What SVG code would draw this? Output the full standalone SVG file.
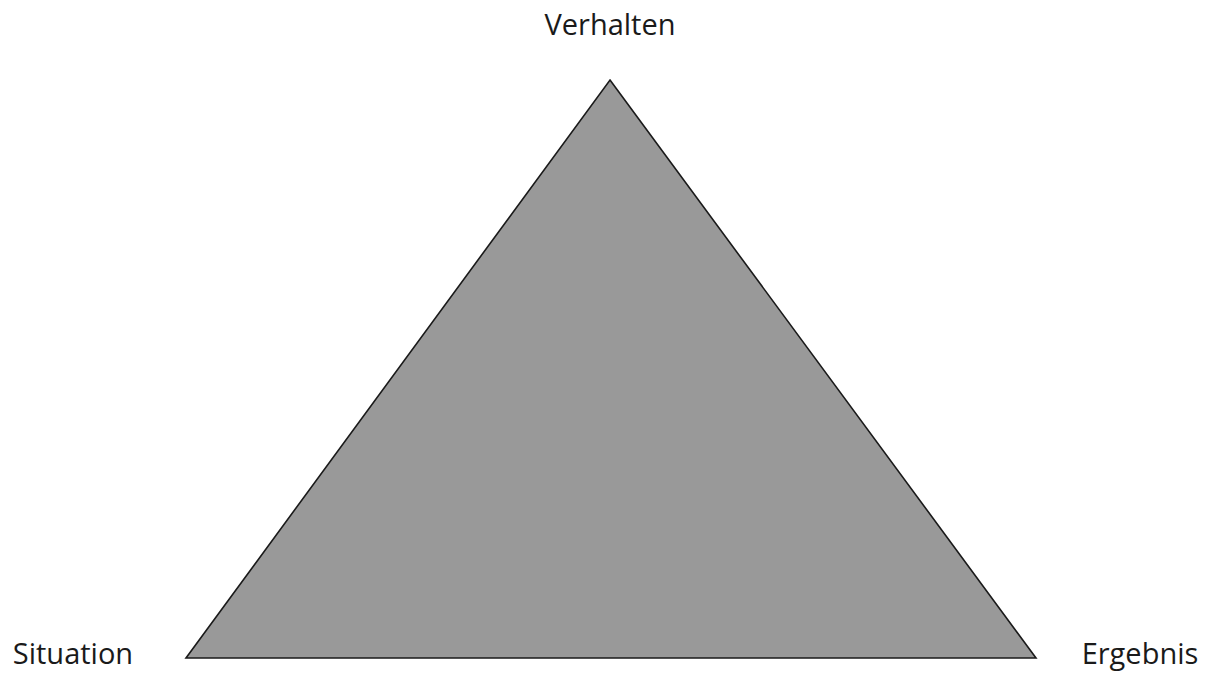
<svg xmlns="http://www.w3.org/2000/svg" width="1205" height="673" viewBox="0 0 1205 673">
<style>
.lbl{font-family:"Open Sans","Noto Sans",sans-serif;font-size:29px;fill:#1a1a1a}
.tri{fill:#999999;stroke:#1a1a1a;stroke-width:1.6;stroke-linejoin:miter}
</style>
<rect width="1205" height="673" fill="#ffffff"/>
<g id="triangle"><polygon class="tri" points="610,80 1036,658 186,658"/></g>
<g id="verhalten"><text class="lbl" x="610" y="35" text-anchor="middle">Verhalten</text></g>
<g id="situation"><text class="lbl" x="73" y="664" text-anchor="middle">Situation</text></g>
<g id="ergebnis"><text class="lbl" x="1140" y="664" text-anchor="middle">Ergebnis</text></g>
<g id="connectors"></g>
</svg>
